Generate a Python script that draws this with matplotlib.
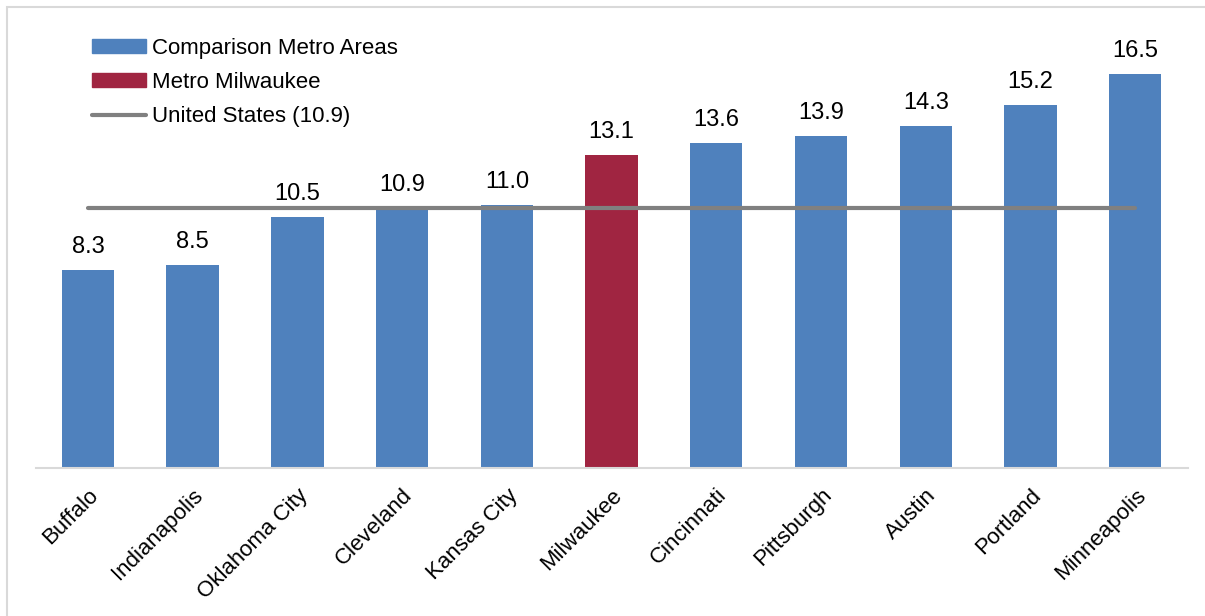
import matplotlib
matplotlib.use('Agg')
import matplotlib.pyplot as plt
from matplotlib.patches import Rectangle, Patch
from matplotlib.lines import Line2D

metros = ['Buffalo', 'Indianapolis', 'Oklahoma City', 'Cleveland', 'Kansas City', 'Milwaukee',
          'Cincinnati', 'Pittsburgh', 'Austin', 'Portland', 'Minneapolis']
values = [8.3, 8.5, 10.5, 10.9, 11.0, 13.1, 13.6, 13.9, 14.3, 15.2, 16.5]
us_value = 10.9
highlight = 'Milwaukee'

BLUE = '#4F81BD'
RED = '#A02541'
GRAY = '#808080'

plt.rcParams['font.family'] = ['Liberation Sans', 'DejaVu Sans']

fig = plt.figure(figsize=(12.05, 6.16), dpi=100)
W, H = 1205, 616
# light outer frame
fig.patches.append(Rectangle((7 / W, -0.1), 1.1, 1 - 7 / H + 0.1, transform=fig.transFigure,
                             fill=False, edgecolor='#d9d9d9', linewidth=1.5))

ax = fig.add_axes([35.6 / W, (H - 468) / H, (1187.5 - 35.6) / W, 430 / H])
x = list(range(len(metros)))
colors = [RED if m == highlight else BLUE for m in metros]
ax.bar(x, values, width=0.5, color=colors, zorder=2)
ax.plot([0, len(metros) - 1], [us_value, us_value], color=GRAY, linewidth=3, zorder=3,
        solid_capstyle='round')

for xi, v in zip(x, values):
    ax.text(xi, v + 0.5, f'{v:.1f}', ha='center', va='bottom', fontsize=17, color='black')

ax.set_xlim(-0.5, len(metros) - 0.5)
ax.set_ylim(0, 18)
ax.set_xticks(x)
ax.set_xticklabels(metros, rotation=45, ha='right', rotation_mode='anchor', fontsize=16)
ax.tick_params(axis='x', length=0, pad=12)
ax.set_yticks([])
for s in ['top', 'right', 'left']:
    ax.spines[s].set_visible(False)
ax.spines['bottom'].set_color('#d9d9d9')
ax.spines['bottom'].set_linewidth(1.5)

handles = [Patch(color=BLUE), Patch(color=RED),
           Line2D([0], [0], color=GRAY, linewidth=3, solid_capstyle='round')]
labels = ['Comparison Metro Areas', 'Metro Milwaukee', f'United States ({us_value})']
ax.legend(handles, labels, loc='upper left', bbox_to_anchor=(0.032, 1.047), frameon=False,
          fontsize=16, handlelength=2.4, handleheight=0.6, handletextpad=0.27, labelspacing=0.6)

fig.savefig('out.png', dpi=100)
